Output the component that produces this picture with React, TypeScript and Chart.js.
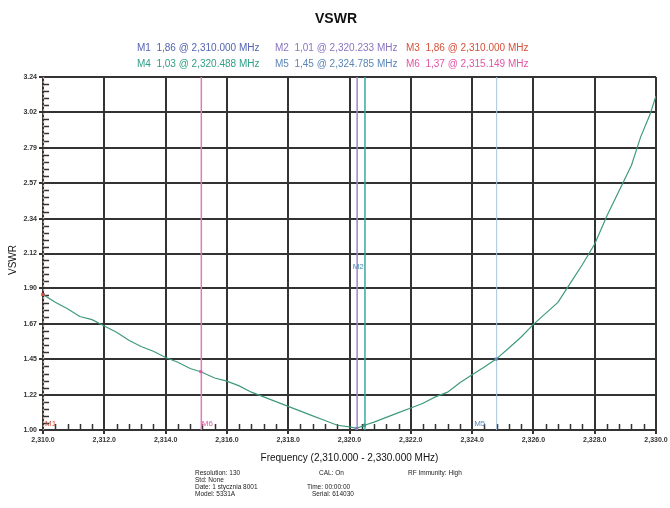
import React, { useEffect, useRef } from "react";
import { Chart, registerables } from "chart.js";

Chart.register(...registerables);

// ---- data ----
const freqs = [
  2310.0, 2310.4, 2310.8, 2311.2, 2311.6, 2312.0, 2312.4, 2312.8, 2313.2, 2313.6,
  2314.0, 2314.4, 2314.8, 2315.149, 2315.6, 2316.0, 2316.4, 2316.8, 2317.2, 2317.6,
  2318.0, 2318.4, 2318.8, 2319.2, 2319.6, 2320.0, 2320.233, 2320.488, 2320.8, 2321.2,
  2321.6, 2322.0, 2322.4, 2322.8, 2323.2, 2323.6, 2324.0, 2324.4, 2324.785, 2325.2,
  2325.6, 2326.0, 2326.4, 2326.8, 2327.2, 2327.6, 2328.0, 2328.4, 2328.8, 2329.2,
  2329.5, 2329.8, 2330.0,
];
const vswr = [
  1.86, 1.81, 1.77, 1.72, 1.70, 1.66, 1.62, 1.57, 1.53, 1.50,
  1.46, 1.43, 1.39, 1.37, 1.33, 1.31, 1.28, 1.24, 1.21, 1.18,
  1.15, 1.12, 1.09, 1.06, 1.03, 1.02, 1.01, 1.03, 1.05, 1.08,
  1.11, 1.14, 1.17, 1.21, 1.24, 1.30, 1.35, 1.40, 1.45, 1.52,
  1.59, 1.67, 1.74, 1.81, 1.93, 2.05, 2.18, 2.36, 2.52, 2.68,
  2.86, 3.00, 3.12,
];
const xTickValues = [2310, 2312, 2314, 2316, 2318, 2320, 2322, 2324, 2326, 2328, 2330];
const yTickLabels = ["1.00", "1.22", "1.45", "1.67", "1.90", "2.12", "2.34", "2.57", "2.79", "3.02", "3.24"];

const markerNames = ["M1", "M2", "M3", "M4", "M5", "M6"];
const markerFreqs = [2310.0, 2320.233, 2310.0, 2320.488, 2324.785, 2315.149];
const markerValues = [1.86, 1.01, 1.86, 1.03, 1.45, 1.37];

const titleText = "VSWR";
const xTitle = "Frequency (2,310.000 - 2,330.000 MHz)";
const yTitle = "VSWR";
const infoCells = [
  ["Resolution: 130", "CAL: On", "RF Immunity: High"],
  ["Std: None", "", ""],
  ["Date: 1 stycznia 8001", "Time: 00:00:00", ""],
  ["Model: 5331A", "Serial: 614030", ""],
];

// ---- styles ----
const FONT = '"Liberation Sans", Arial, sans-serif';
const markerColors = ["#5563b0", "#8a74c0", "#d4503a", "#2f9f86", "#5a86b8", "#e055a5"];
const markerLineColors = ["#e08888", "#9a88cc", "#e08888", "#3aa898", "#a4c4e2", "#e47ab8"];
const GRID = "#333333";

function fmtFreq(f: number, digits: number) {
  const s = f.toFixed(digits);
  const [i, d] = s.split(".");
  return i.slice(0, 1) + "," + i.slice(1) + (d ? "." + d : "");
}

const overlay = {
  id: "overlay",
  beforeDatasetsDraw(chart: any) {
    const ctx = chart.ctx;
    const xs = chart.scales.x;
    const ys = chart.scales.y;
    const { left, top, bottom } = chart.chartArea;
    ctx.save();
    // minor ticks
    ctx.strokeStyle = GRID;
    ctx.lineWidth = 1.5;
    for (let i = 0; i < xTickValues.length - 1; i++) {
      for (let k = 1; k < 5; k++) {
        const v = xTickValues[i] + ((xTickValues[i + 1] - xTickValues[i]) * k) / 5;
        const px = Math.round(xs.getPixelForValue(v)) + 0.5;
        ctx.beginPath();
        ctx.moveTo(px, bottom);
        ctx.lineTo(px, bottom - 6);
        ctx.stroke();
      }
    }
    const yVals = yTickLabels.map(Number);
    for (let i = 0; i < yVals.length - 1; i++) {
      for (let k = 1; k < 5; k++) {
        const v = yVals[i] + ((yVals[i + 1] - yVals[i]) * k) / 5;
        const py = Math.round(ys.getPixelForValue(v)) + 0.5;
        ctx.beginPath();
        ctx.moveTo(left, py);
        ctx.lineTo(left + 6, py);
        ctx.stroke();
      }
    }
    // marker lines
    markerFreqs.forEach((f, i) => {
      const px = xs.getPixelForValue(f);
      ctx.strokeStyle = markerLineColors[i];
      if (f === xs.min) {
        ctx.lineWidth = 1.2;
        ctx.setLineDash([2, 2]);
      } else {
        ctx.lineWidth = markerNames[i] === "M5" ? 1 : 1.5;
        ctx.setLineDash([]);
      }
      ctx.beginPath();
      ctx.moveTo(px + 0.5, top);
      ctx.lineTo(px + 0.5, bottom);
      ctx.stroke();
    });
    ctx.setLineDash([]);
    ctx.restore();
  },
  afterDraw(chart: any) {
    const ctx = chart.ctx;
    const xs = chart.scales.x;
    const ys = chart.scales.y;
    const { left, right, bottom } = chart.chartArea;
    ctx.save();
    // marker points & labels
    markerFreqs.forEach((f, i) => {
      const px = xs.getPixelForValue(f);
      const py = ys.getPixelForValue(markerValues[i]);
      ctx.fillStyle = markerColors[i];
      ctx.fillRect(px - 1.5, py - 1.5, 3, 3);
    });
    ctx.font = `8px ${FONT}`;
    ctx.textBaseline = "alphabetic";
    ctx.textAlign = "left";
    const lbl = (name: string, color: string, x: number, y: number) => {
      ctx.fillStyle = color;
      ctx.fillText(name, x, y);
    };
    lbl("M1", markerColors[2], left + 2, bottom - 4);
    lbl("M6", markerColors[5], xs.getPixelForValue(markerFreqs[5]) + 1, bottom - 4);
    lbl("M5", markerColors[4], xs.getPixelForValue(markerFreqs[4]) - 22, bottom - 4);
    lbl("M2", "#4a8ab0", xs.getPixelForValue(markerFreqs[1]) - 4, 269);

    // title
    ctx.fillStyle = "#111";
    ctx.textAlign = "center";
    ctx.font = `bold 14px ${FONT}`;
    ctx.fillText(titleText, 336, 23);

    // legend
    ctx.font = `10px ${FONT}`;
    ctx.textAlign = "left";
    const colX = [137, 275, 406];
    const rowY = [51, 67];
    markerNames.forEach((n, i) => {
      const txt = `${n}  ${markerValues[i].toFixed(2).replace(".", ",")} @ ${fmtFreq(markerFreqs[i], 3)} MHz`;
      ctx.fillStyle = markerColors[i];
      ctx.fillText(txt, colX[i % 3], rowY[Math.floor(i / 3)]);
    });

    // axis titles
    ctx.fillStyle = "#111";
    ctx.font = `10px ${FONT}`;
    ctx.textAlign = "center";
    ctx.fillText(xTitle, (left + right) / 2, 461);
    ctx.save();
    ctx.translate(16, 260);
    ctx.rotate(-Math.PI / 2);
    ctx.fillText(yTitle, 0, 0);
    ctx.restore();

    // info block
    ctx.font = `6.5px ${FONT}`;
    ctx.textAlign = "left";
    ctx.fillStyle = "#222";
    const infoX = [195, 310, 408];
    infoCells.forEach((row, r) => {
      row.forEach((c, j) => {
        if (!c) return;
        let x = infoX[j];
        if (j === 1 && r === 0) x = 319;
        if (j === 1 && r === 2) x = 307;
        if (j === 1 && r === 3) x = 312;
        ctx.fillText(c, x, 475 + r * 7);
      });
    });
    ctx.restore();
  },
};

export default function App() {
  const ref = useRef<HTMLCanvasElement | null>(null);
  useEffect(() => {
    document.body.style.margin = "0";
    const canvas = ref.current;
    if (!canvas) return;
    const chart = new Chart(canvas, {
      type: "line",
      data: {
        datasets: [
          {
            data: freqs.map((f, i) => ({ x: f, y: vswr[i] })),
            borderColor: "#3f9a7c",
            borderWidth: 1.2,
            pointRadius: 0,
            tension: 0,
          },
        ],
      },
      options: {
        animation: false,
        responsive: false,
        maintainAspectRatio: false,
        layout: { padding: { left: 0, right: 14, top: 77, bottom: 0 } },
        plugins: { legend: { display: false }, tooltip: { enabled: false }, title: { display: false } },
        scales: {
          x: {
            type: "linear",
            min: 2310,
            max: 2330,
            afterBuildTicks: (s: any) => {
              s.ticks = xTickValues.map((v) => ({ value: v }));
            },
            afterFit: (s: any) => {
              s.height = 78;
            },
            ticks: {
              autoSkip: false,
              maxRotation: 0,
              padding: 2,
              color: "#333",
              font: { family: FONT, size: 7, weight: "bold" },
              callback: (v: any) => fmtFreq(Number(v), 1),
            },
            grid: { color: GRID, lineWidth: 2, tickLength: 4, drawTicks: true },
            border: { color: GRID, width: 2 },
          },
          y: {
            type: "linear",
            min: 1.0,
            max: 3.24,
            afterBuildTicks: (s: any) => {
              s.ticks = yTickLabels.map((v) => ({ value: Number(v) }));
            },
            afterFit: (s: any) => {
              s.width = 43;
            },
            ticks: {
              autoSkip: false,
              padding: 2,
              color: "#333",
              font: { family: FONT, size: 7, weight: "bold" },
              callback: (v: any) => Number(v).toFixed(2),
            },
            grid: { color: GRID, lineWidth: 2, tickLength: 4, drawTicks: true },
            border: { color: GRID, width: 2 },
          },
        },
      },
      plugins: [overlay],
    } as any);
    return () => chart.destroy();
  }, []);
  return (
    <div style={{ position: "absolute", left: 0, top: 0, width: 670, height: 508, background: "#fff" }}>
      <canvas ref={ref} width={670} height={508} style={{ display: "block", width: 670, height: 508 }} />
    </div>
  );
}
